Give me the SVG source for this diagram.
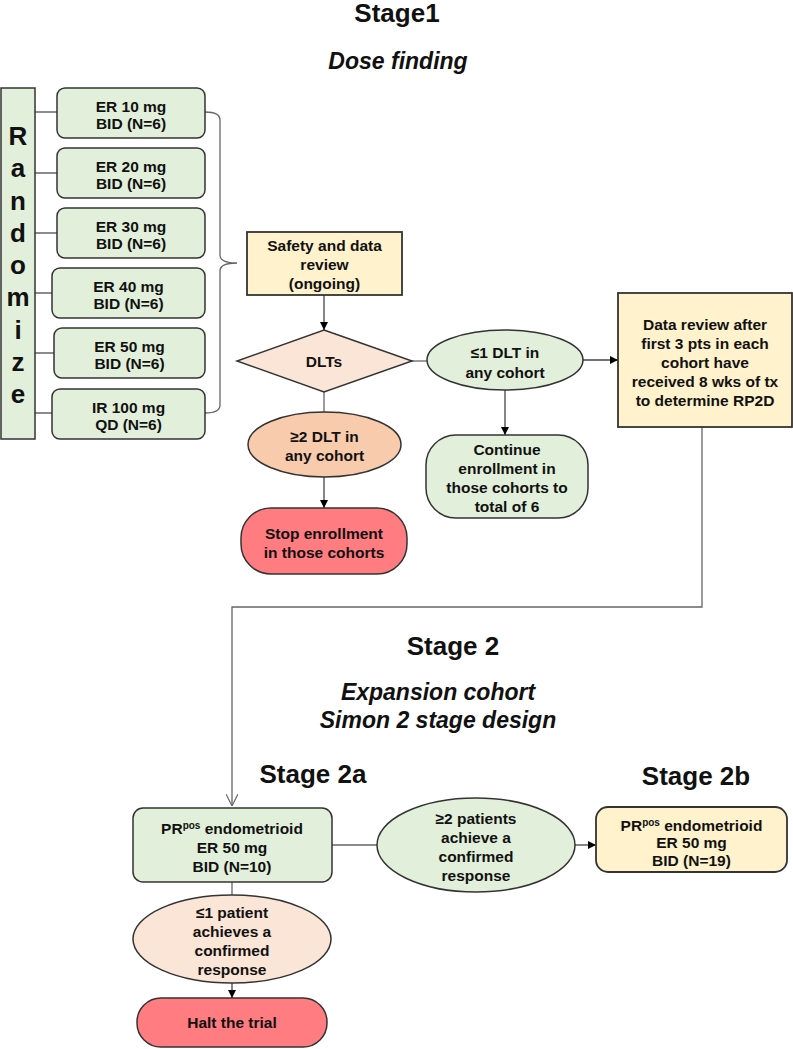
<svg xmlns="http://www.w3.org/2000/svg" width="793" height="1049" viewBox="0 0 793 1049">
<defs>
<style>
text{font-family:"Liberation Sans",Arial,sans-serif;font-weight:bold;fill:#111;text-anchor:middle}
.t{font-size:15.5px}
.h{font-size:26px}
.i{font-size:23px;font-style:italic}
.sup{font-size:10px}
.rz{font-size:26px}
.g{fill:#E2EFDA;stroke:#333;stroke-width:1.5}
.y{fill:#FFF2CC;stroke:#333;stroke-width:1.8}
.pk{fill:#FBE5D6;stroke:#333;stroke-width:1.5}
.or{fill:#F8CBAD;stroke:#333;stroke-width:1.5}
.rd{fill:#FF7C80;stroke:#333;stroke-width:1.5}
.c{fill:none;stroke:#666;stroke-width:1.3}
.ca{fill:none;stroke:#444;stroke-width:1.3;marker-end:url(#ah)}
</style>
<marker id="ah" viewBox="0 0 10 10" refX="10" refY="5" markerWidth="8" markerHeight="8" markerUnits="userSpaceOnUse" orient="auto">
<path d="M0,0 L10,5 L0,10 z" fill="#000"/>
</marker>
<marker id="av" viewBox="0 0 10 10" refX="10" refY="5" markerWidth="12" markerHeight="12" markerUnits="userSpaceOnUse" orient="auto">
<path d="M0,0 L10,5 L0,10" fill="none" stroke="#666" stroke-width="1"/>
</marker>
</defs>
<rect width="793" height="1049" fill="#fff"/>

<g id="titles">
<text class="h" x="397" y="22">Stage1</text>
<text class="i" x="398" y="69">Dose finding</text>
<text class="h" x="453" y="655">Stage 2</text>
<text class="i" x="438" y="700">Expansion cohort</text>
<text class="i" x="438" y="728">Simon 2 stage design</text>
<text class="h" x="313" y="783">Stage 2a</text>
<text class="h" x="696" y="785">Stage 2b</text>
</g>

<g id="connectors">
<path class="c" d="M35,112 H57 M35,173 H57 M35,233 H57 M35,293 H52 M35,353 H54 M35,413 H52"/>
<path class="c" d="M205,112 Q220,112 220,120 L220,255 Q220,263 237,263 Q220,263 220,271 L220,405 Q220,413 205,413"/>
<path class="ca" d="M324,295 V330"/>
<path class="c" d="M324,392 V412"/>
<path class="ca" d="M324,477 V508"/>
<path class="c" d="M412,361 H427"/>
<path class="ca" d="M583,360 H618"/>
<path class="ca" d="M505,390 V435"/>
<path class="c" d="M702,427 V607 H232 V806" marker-end="url(#av)" stroke="#777" stroke-width="1.1"/>
<path class="c" d="M332,845 H377"/>
<path class="ca" d="M575,845 H596"/>
<path class="c" d="M232,882 V895"/>
<path class="ca" d="M232,983 V998"/>
</g>

<g id="randomize">
<rect class="g" x="1" y="88" width="34" height="351" stroke="#222"/>
<text class="rz" x="18" y="145">R</text>
<text class="rz" x="18" y="177">a</text>
<text class="rz" x="18" y="210">n</text>
<text class="rz" x="18" y="242">d</text>
<text class="rz" x="18" y="274">o</text>
<text class="rz" x="18" y="306">m</text>
<text class="rz" x="18" y="339">i</text>
<text class="rz" x="18" y="371">z</text>
<text class="rz" x="18" y="403">e</text>
</g>

<g id="er10"><rect class="g" x="57" y="88" width="148" height="50" rx="8"/>
<text class="t" x="131" y="111.5">ER 10 mg</text><text class="t" x="131" y="128.5">BID (N=6)</text></g>
<g id="er20"><rect class="g" x="57" y="148" width="148" height="50" rx="8"/>
<text class="t" x="131" y="171.5">ER 20 mg</text><text class="t" x="131" y="188.5">BID (N=6)</text></g>
<g id="er30"><rect class="g" x="57" y="208" width="148" height="50" rx="8"/>
<text class="t" x="131" y="231.5">ER 30 mg</text><text class="t" x="131" y="248.5">BID (N=6)</text></g>
<g id="er40"><rect class="g" x="52" y="268" width="153" height="50" rx="8"/>
<text class="t" x="128.5" y="291.5">ER 40 mg</text><text class="t" x="128.5" y="308.5">BID (N=6)</text></g>
<g id="er50"><rect class="g" x="54" y="328" width="151" height="50" rx="8"/>
<text class="t" x="129.5" y="351.5">ER 50 mg</text><text class="t" x="129.5" y="368.5">BID (N=6)</text></g>
<g id="ir100"><rect class="g" x="52" y="389" width="153" height="50" rx="8"/>
<text class="t" x="128.5" y="412.5">IR 100 mg</text><text class="t" x="128.5" y="429.5">QD (N=6)</text></g>

<g id="safety"><rect class="y" x="247" y="232" width="155" height="63"/>
<text class="t" x="324.5" y="250.5">Safety and data</text>
<text class="t" x="324.5" y="269.5">review</text>
<text class="t" x="324.5" y="288.5">(ongoing)</text></g>

<g id="dlts"><path class="pk" d="M324,330 L412,361 L324,392 L237,361 Z"/>
<text class="t" x="324" y="366.5">DLTs</text></g>

<g id="ge2dlt"><ellipse class="or" cx="324.5" cy="444.5" rx="76.5" ry="32.5"/>
<text class="t" x="324.5" y="441.5">≥2 DLT in</text>
<text class="t" x="324.5" y="460.5">any cohort</text></g>

<g id="stop"><rect class="rd" x="241" y="508" width="166" height="66" rx="30"/>
<text class="t" x="324" y="538.5">Stop enrollment</text>
<text class="t" x="324" y="557.5">in those cohorts</text></g>

<g id="le1dlt"><ellipse class="g" cx="505" cy="360" rx="78" ry="30"/>
<text class="t" x="505" y="357.5">≤1 DLT in</text>
<text class="t" x="505" y="377.5">any cohort</text></g>

<g id="continue"><rect class="g" x="426" y="435" width="162" height="83" rx="30"/>
<text class="t" x="507" y="454.5">Continue</text>
<text class="t" x="507" y="473.5">enrollment in</text>
<text class="t" x="507" y="492.5">those cohorts to</text>
<text class="t" x="507" y="511.5">total of 6</text></g>

<g id="datareview"><rect class="y" x="618" y="293" width="174" height="134"/>
<text class="t" x="705" y="329.5">Data review after</text>
<text class="t" x="705" y="348.5">first 3 pts in each</text>
<text class="t" x="705" y="367.5">cohort have</text>
<text class="t" x="705" y="386.5">received 8 wks of tx</text>
<text class="t" x="705" y="405.5">to determine RP2D</text></g>

<g id="stage2a"><rect class="g" x="133" y="808" width="199" height="74" rx="10"/>
<text class="t" x="232" y="833.5">PR<tspan class="sup" dy="-5">pos</tspan><tspan dy="5"> endometrioid</tspan></text>
<text class="t" x="232" y="852.5">ER 50 mg</text>
<text class="t" x="232" y="871.5">BID (N=10)</text></g>

<g id="ge2pat"><ellipse class="g" cx="476" cy="845" rx="99" ry="47"/>
<text class="t" x="476" y="823.5">≥2 patients</text>
<text class="t" x="476" y="842.5">achieve a</text>
<text class="t" x="476" y="861.5">confirmed</text>
<text class="t" x="476" y="880.5">response</text></g>

<g id="stage2b"><rect class="y" x="596" y="807" width="191" height="65" rx="12" stroke-width="1.5"/>
<text class="t" x="691.5" y="830.5">PR<tspan class="sup" dy="-5">pos</tspan><tspan dy="5"> endometrioid</tspan></text>
<text class="t" x="691.5" y="848">ER 50 mg</text>
<text class="t" x="691.5" y="865.5">BID (N=19)</text></g>

<g id="le1pat"><ellipse class="pk" cx="232" cy="939" rx="99" ry="44"/>
<text class="t" x="232" y="917.5">≤1 patient</text>
<text class="t" x="232" y="936.5">achieves a</text>
<text class="t" x="232" y="955.5">confirmed</text>
<text class="t" x="232" y="974.5">response</text></g>

<g id="halt"><rect class="rd" x="137" y="998" width="190" height="49" rx="24"/>
<text class="t" x="232" y="1028">Halt the trial</text></g>
</svg>
